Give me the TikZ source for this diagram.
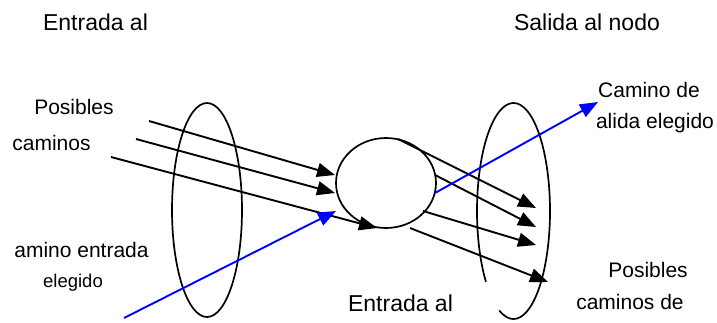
\documentclass[tikz,border=0pt]{standalone}
\usepackage{fontspec}
\setmainfont{Liberation Sans}
\usetikzlibrary{arrows.meta,shapes.geometric}
\tikzset{
  conn/.style={line width=1.9pt,-{Triangle[length=18pt,width=14pt]}},
  blueconn/.style={conn,draw={rgb,255:red,0;green,0;blue,255},color={rgb,255:red,0;green,0;blue,255}},
  ring/.style={draw,line width=1.7pt,ellipse,inner sep=0pt},
  lbl/.style={inner sep=0pt,font=\fontsize{21}{25}\selectfont},
  ttl/.style={inner sep=0pt,font=\fontsize{23}{27}\selectfont},
  small/.style={inner sep=0pt,font=\fontsize{18.5}{22}\selectfont}
}
\begin{document}
\begin{tikzpicture}[x=1pt,y=1pt]
\useasboundingbox (0,0) rectangle (717,-322);
% shapes
\node[ring,minimum width=70pt,minimum height=214pt] (lring) at (207,-210) {};
\node[ring,minimum width=100pt,minimum height=90pt] (hub) at (386,-183) {};
\draw[line width=1.7pt] (513.5,-211) ++(247:36.5 and 108) arc[start angle=247,end angle=581,x radius=36.5,y radius=108];
% coordinates
\coordinate (a1s) at (149,-121); \coordinate (a1e) at (335,-175);
\coordinate (a2s) at (136,-139); \coordinate (a2e) at (335,-193);
\coordinate (a3s) at (111,-157); \coordinate (a3e) at (377,-228);
\coordinate (bis) at (124,-318); \coordinate (bie) at (336,-211);
\coordinate (r1s) at (398,-139); \coordinate (r1e) at (536,-208);
\coordinate (r2s) at (435,-175); \coordinate (r2e) at (536,-227);
\coordinate (r3s) at (423,-211); \coordinate (r3e) at (536,-245);
\coordinate (r4s) at (410,-228); \coordinate (r4e) at (548,-282);
\coordinate (bos) at (435,-193); \coordinate (boe) at (598,-102);
% connectors
\draw[conn] (a1s) -- (a1e);
\draw[conn] (a2s) -- (a2e);
\draw[conn] (a3s) -- (a3e);
\draw[blueconn] (bis) -- (bie);
\draw[conn] (r1s) -- (r1e);
\draw[conn] (r2s) -- (r2e);
\draw[conn] (r3s) -- (r3e);
\draw[conn] (r4s) -- (r4e);
\draw[blueconn] (bos) -- (boe);
% labels
\node[ttl] (t1) at (95.5,-22) {Entrada al};
\node[ttl] (t2) at (587,-22) {Salida al nodo};
\node[lbl] (l1) at (74,-107) {Posibles};
\node[lbl] (l2) at (51.5,-143) {caminos};
\node[lbl] (l3) at (81.5,-250) {amino entrada};
\node[small] (l4) at (73,-283) {elegido};
\node[lbl] (r1) at (649,-90) {Camino de};
\node[lbl] (r2) at (655,-123) {alida elegido};
\node[lbl] (r3) at (648,-270) {Posibles};
\node[lbl] (r4) at (630,-302) {caminos de};
\node[ttl] (b1) at (400.5,-303) {Entrada al};
\end{tikzpicture}
\end{document}
